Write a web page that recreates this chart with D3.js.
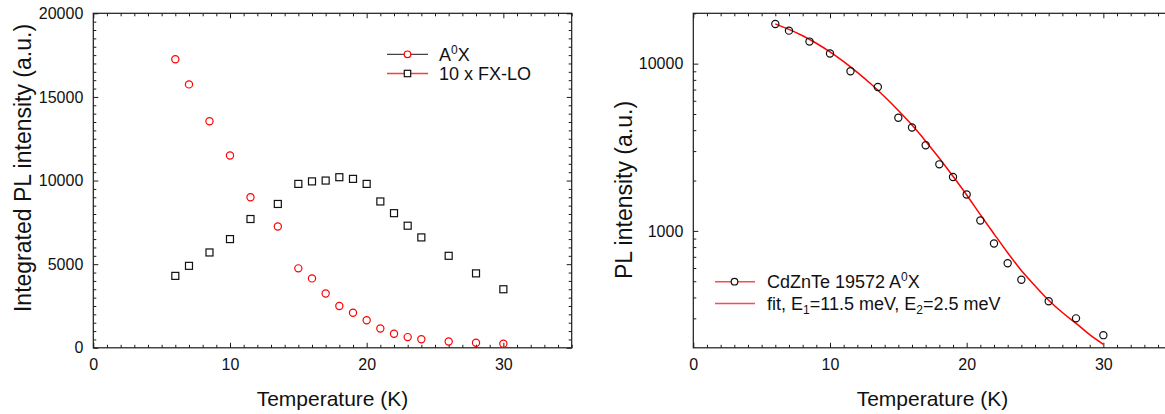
<!DOCTYPE html>
<html>
<head>
<meta charset="utf-8">
<script src="https://cdn.jsdelivr.net/npm/d3@7"></script>
<style>
  html, body { margin: 0; padding: 0; background: #fff; }
  svg { display: block; }
  text { font-family: "Liberation Sans", Arial, Helvetica, sans-serif; fill: #111; }
</style>
</head>
<body>
<svg id="chart" width="1165" height="414"></svg>
<script>
// ---------- DATA ----------
const temps = [6, 7, 8.5, 10, 11.5, 13.5, 15, 16, 17, 18, 19, 20, 21, 22, 23, 24, 26, 28, 30];
const a0x   = [17250, 15750, 13550, 11500, 9000, 7250, 4750, 4150, 3250, 2500, 2100, 1650, 1155, 840, 640, 510, 380, 300, 238];
const fxlo10 = [4300, 4900, 5700, 6500, 7700, 8600, 9800, 9950, 10000, 10200, 10100, 9800, 8750, 8050, 7300, 6600, 5500, 4450, 3500];
const fitT = [6, 7, 8, 9, 10, 11, 12, 13, 14, 15, 16, 17, 18, 19, 20, 21, 22, 23, 24, 25, 26, 27, 28, 29, 30];
const fitI = [17300, 16030, 14690, 13240, 11750, 10280, 8870, 7550, 6340, 5250, 4290, 3440, 2720, 2120, 1640, 1250, 960, 740, 580, 470, 385, 325, 280, 240, 210];
const xMajorTicks = [0, 10, 20, 30];
const yLeftMajorTicks = [0, 5000, 10000, 15000, 20000];
const yRightMajorTicks = [1000, 10000];
const leftLegendLabels = ["A", "10 x FX-LO"];
const rightLegendLabels = ["CdZnTe 19572 A", "fit, E"];

// ---------- LAYOUT ----------
const svg = d3.select("#chart");
const yTop = 13.3, yBot = 347.8;
const L = {x0: 93.3, x1: 571.7};
const R = {x0: 693.3, x1: 1171.7};
const axisColor = "#1a1a1a";

const xL = d3.scaleLinear().domain([0, 35]).range([L.x0, L.x1]);
const xR = d3.scaleLinear().domain([0, 35]).range([R.x0, R.x1]);
const yL = d3.scaleLinear().domain([0, 20000]).range([yBot, yTop]);
const yR = d3.scaleLog().domain([200, 20000]).range([yBot, yTop]);

const xMinor = d3.range(0, 36, 1).filter(v => v % 10 !== 0);
const yLMinor = d3.range(0, 20001, 500).filter(v => v % 5000 !== 0);
const yRMinor = [300, 400, 500, 600, 700, 800, 900, 2000, 3000, 4000, 5000, 6000, 7000, 8000, 9000, 20000];

function styleAxis(g) {
  g.select(".domain").remove();
  g.selectAll("line").attr("stroke", axisColor).attr("stroke-width", 1);
  g.selectAll("text").attr("font-size", 16).attr("fill", "#111")
    .attr("font-family", '"Liberation Sans", Arial, sans-serif');
}

function drawAxes(x, y, yMajor, yMinor, x0, x1, yFormat) {
  // bottom
  svg.append("g").attr("transform", `translate(0,${yBot})`)
    .call(d3.axisBottom(x).tickValues(xMajorTicks).tickSize(-5).tickPadding(11).tickFormat(d3.format("d")))
    .call(styleAxis);
  svg.append("g").attr("transform", `translate(0,${yBot})`)
    .call(d3.axisBottom(x).tickValues(xMinor).tickSize(-3).tickFormat(""))
    .call(styleAxis);
  // top
  svg.append("g").attr("transform", `translate(0,${yTop})`)
    .call(d3.axisTop(x).tickValues(xMajorTicks).tickSize(-5).tickFormat(""))
    .call(styleAxis);
  svg.append("g").attr("transform", `translate(0,${yTop})`)
    .call(d3.axisTop(x).tickValues(xMinor).tickSize(-3).tickFormat(""))
    .call(styleAxis);
  // left
  svg.append("g").attr("transform", `translate(${x0},0)`)
    .call(d3.axisLeft(y).tickValues(yMajor).tickSize(-5).tickPadding(10).tickFormat(yFormat))
    .call(styleAxis);
  svg.append("g").attr("transform", `translate(${x0},0)`)
    .call(d3.axisLeft(y).tickValues(yMinor).tickSize(-3).tickFormat(""))
    .call(styleAxis);
  // right
  svg.append("g").attr("transform", `translate(${x1},0)`)
    .call(d3.axisRight(y).tickValues(yMajor).tickSize(-5).tickFormat(""))
    .call(styleAxis);
  svg.append("g").attr("transform", `translate(${x1},0)`)
    .call(d3.axisRight(y).tickValues(yMinor).tickSize(-3).tickFormat(""))
    .call(styleAxis);
  // frame
  svg.append("rect").attr("x", x0).attr("y", yTop).attr("width", x1 - x0).attr("height", yBot - yTop)
    .attr("fill", "none").attr("stroke", axisColor).attr("stroke-width", 1.2);
}

drawAxes(xL, yL, yLeftMajorTicks, yLMinor, L.x0, L.x1, d3.format("d"));
drawAxes(xR, yR, yRightMajorTicks, yRMinor, R.x0, R.x1, d3.format("d"));

// axis titles
svg.append("text").attr("x", (L.x0 + L.x1) / 2).attr("y", 406).attr("text-anchor", "middle")
  .attr("font-size", 21).text("Temperature (K)");
svg.append("text").attr("x", (R.x0 + R.x1) / 2).attr("y", 406).attr("text-anchor", "middle")
  .attr("font-size", 21).text("Temperature (K)");
svg.append("text").attr("transform", "translate(22.5,168) rotate(-90)").attr("text-anchor", "middle")
  .attr("dominant-baseline", "central").attr("font-size", 23).text("Integrated PL intensity (a.u.)");
svg.append("text").attr("transform", "translate(624,190) rotate(-90)").attr("text-anchor", "middle")
  .attr("dominant-baseline", "central").attr("font-size", 23).text("PL intensity (a.u.)");

// ---------- LEFT PLOT MARKS ----------
const leftData = temps.map((t, i) => ({t, a: a0x[i], f: fxlo10[i]}));
const sq = 7;
svg.append("g").selectAll("rect").data(leftData).join("rect")
  .attr("x", d => xL(d.t) - sq / 2).attr("y", d => yL(d.f) - sq / 2)
  .attr("width", sq).attr("height", sq)
  .attr("fill", "none").attr("stroke", "#111").attr("stroke-width", 1.2);
svg.append("g").selectAll("circle").data(leftData).join("circle")
  .attr("cx", d => xL(d.t)).attr("cy", d => yL(d.a)).attr("r", 3.6)
  .attr("fill", "none").attr("stroke", "#ff0000").attr("stroke-width", 1.2);

// left legend
const lg = svg.append("g");
lg.append("line").attr("x1", 387).attr("x2", 428).attr("y1", 54.3).attr("y2", 54.3)
  .attr("stroke", "#444").attr("stroke-width", 1.3);
lg.append("circle").attr("cx", 407.5).attr("cy", 54.3).attr("r", 3.3)
  .attr("fill", "#fff").attr("stroke", "#ff0000").attr("stroke-width", 1.2);
const t1 = lg.append("text").attr("x", 439).attr("y", 60.8).attr("font-size", 18);
t1.append("tspan").text(leftLegendLabels[0]);
t1.append("tspan").attr("dy", -7).attr("font-size", 12).text("0");
t1.append("tspan").attr("dy", 7).text("X");
lg.append("line").attr("x1", 387).attr("x2", 428).attr("y1", 73.5).attr("y2", 73.5)
  .attr("stroke", "#ff3b3b").attr("stroke-width", 1.3);
lg.append("rect").attr("x", 407.5 - 3.2).attr("y", 73.5 - 3.2).attr("width", 6.4).attr("height", 6.4)
  .attr("fill", "#fff").attr("stroke", "#111").attr("stroke-width", 1.2);
lg.append("text").attr("x", 439).attr("y", 80).attr("font-size", 18).text(leftLegendLabels[1]);

// ---------- RIGHT PLOT MARKS ----------
const fitData = fitT.map((t, i) => ({t, v: fitI[i]}));
svg.append("path").datum(fitData)
  .attr("d", d3.line().x(d => xR(d.t)).y(d => yR(d.v)).curve(d3.curveMonotoneX))
  .attr("fill", "none").attr("stroke", "#ff0000").attr("stroke-width", 1.5);
svg.append("g").selectAll("circle").data(leftData).join("circle")
  .attr("cx", d => xR(d.t)).attr("cy", d => yR(d.a)).attr("r", 3.6)
  .attr("fill", "none").attr("stroke", "#111").attr("stroke-width", 1.2);

// right legend
const rg = svg.append("g");
rg.append("line").attr("x1", 715).attr("x2", 755).attr("y1", 281.7).attr("y2", 281.7)
  .attr("stroke", "#ff4a4a").attr("stroke-width", 1.6);
rg.append("circle").attr("cx", 734.5).attr("cy", 281.7).attr("r", 3.3)
  .attr("fill", "#fff").attr("stroke", "#111").attr("stroke-width", 1.2);
const t3 = rg.append("text").attr("x", 767).attr("y", 288.2).attr("font-size", 18);
t3.append("tspan").text(rightLegendLabels[0]);
t3.append("tspan").attr("dy", -7).attr("font-size", 12).text("0");
t3.append("tspan").attr("dy", 7).text("X");
rg.append("line").attr("x1", 715).attr("x2", 755).attr("y1", 303.5).attr("y2", 303.5)
  .attr("stroke", "#ff4a4a").attr("stroke-width", 1.6);
const t4 = rg.append("text").attr("x", 767).attr("y", 310).attr("font-size", 18);
t4.append("tspan").text(rightLegendLabels[1]);
t4.append("tspan").attr("dy", 4).attr("font-size", 12).text("1");
t4.append("tspan").attr("dy", -4).text("=11.5 meV, E");
t4.append("tspan").attr("dy", 4).attr("font-size", 12).text("2");
t4.append("tspan").attr("dy", -4).text("=2.5 meV");
</script>
</body>
</html>
